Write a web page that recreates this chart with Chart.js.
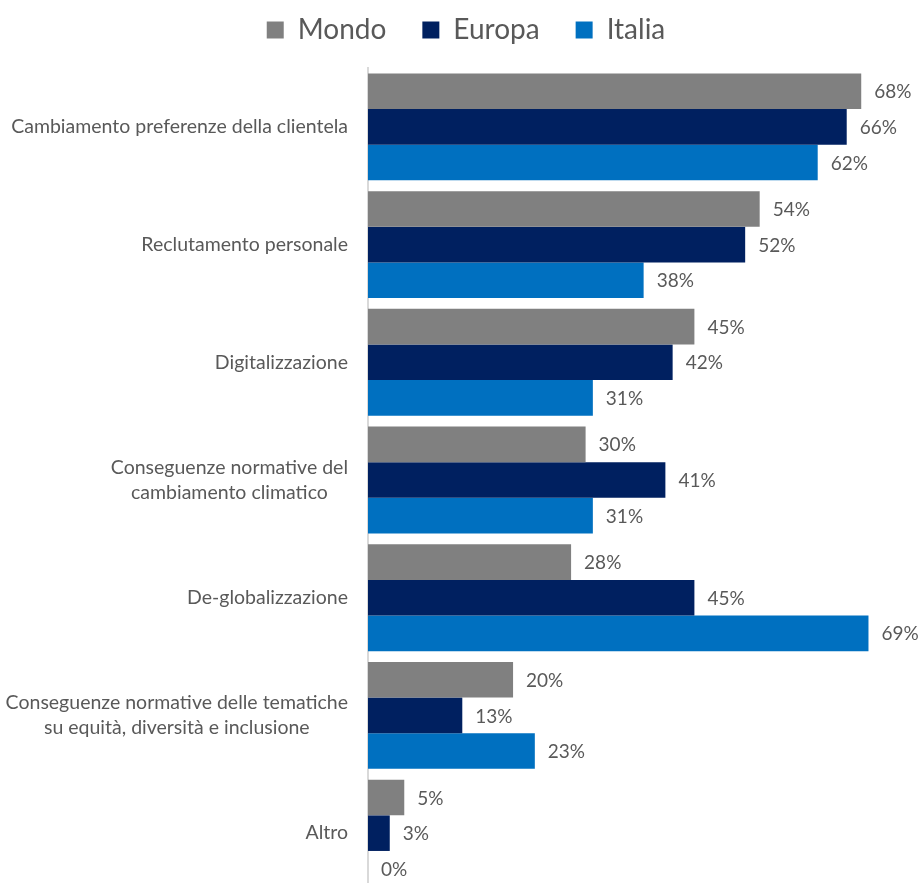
<!DOCTYPE html>
<html lang="it">
<head>
<meta charset="utf-8">
<title>Fattori di cambiamento</title>
<script src="https://cdn.jsdelivr.net/npm/chart.js@4/dist/chart.umd.min.js"></script>
<style>
  html, body { margin: 0; padding: 0; background: #fff; overflow: hidden; }
  #wrap { width: 920px; height: 893px; }
</style>
</head>
<body>
<div id="wrap"><canvas id="chart"></canvas></div>
<script>
// categories (multi-line where the label wraps)
const categories = [
  ['Cambiamento preferenze della clientela'],
  ['Reclutamento personale'],
  ['Digitalizzazione'],
  ['Conseguenze normative del', 'cambiamento climatico'],
  ['De-globalizzazione'],
  ['Conseguenze normative delle tematiche', 'su equità, diversità e inclusione'],
  ['Altro']
];

// percentages per series
const mondo  = [68, 54, 45, 30, 28, 20, 5];
const europa = [66, 52, 42, 41, 45, 13, 3];
const italia = [62, 38, 31, 31, 69, 23, 0];

const seriesNames = ['Mondo', 'Europa', 'Italia'];
const seriesColors = ['#808080', '#002060', '#0070C0'];

const textGray = '#595959';
const fontFamily = 'Lato, "Noto Sans", sans-serif';

// category labels: block right-aligned to the axis, lines centred inside the block
const categoryLabels = {
  id: 'categoryLabels',
  afterDraw(chart) {
    const ctx = chart.ctx;
    const y = chart.scales.y;
    const right = chart.chartArea.left - 20;
    const lineH = 25;
    ctx.save();
    ctx.font = '19.5px ' + fontFamily;
    ctx.fillStyle = textGray;
    ctx.textAlign = 'center';
    ctx.textBaseline = 'middle';
    categories.forEach((lines, i) => {
      const cy = y.getPixelForValue(i);
      const maxW = Math.max(...lines.map(l => ctx.measureText(l).width));
      const cx = right - maxW / 2;
      const top = cy - (lines.length - 1) * lineH / 2;
      lines.forEach((l, k) => ctx.fillText(l, cx, top + k * lineH));
    });
    ctx.restore();
  }
};

// value labels to the right of each bar
const valueLabels = {
  id: 'valueLabels',
  afterDatasetsDraw(chart) {
    const ctx = chart.ctx;
    ctx.save();
    ctx.font = '19px ' + fontFamily;
    ctx.fillStyle = textGray;
    ctx.textAlign = 'left';
    ctx.textBaseline = 'middle';
    chart.data.datasets.forEach((ds, di) => {
      chart.getDatasetMeta(di).data.forEach((bar, i) => {
        ctx.fillText(ds.data[i] + '%', bar.x + 13, bar.y + 1);
      });
    });
    ctx.restore();
  }
};

new Chart(document.getElementById('chart'), {
  type: 'bar',
  data: {
    labels: categories,
    datasets: [mondo, europa, italia].map((d, i) => ({
      label: seriesNames[i],
      data: d,
      backgroundColor: seriesColors[i],
      borderWidth: 0,
      categoryPercentage: 0.908,
      barPercentage: 1
    }))
  },
  options: {
    indexAxis: 'y',
    responsive: true,
    maintainAspectRatio: false,
    animation: false,
    layout: { padding: { top: -20, right: 8, bottom: 1, left: 20 } },
    scales: {
      x: {
        position: 'top',
        min: 0,
        max: 75,
        grid: { display: false },
        border: { display: false },
        ticks: { display: false },
        // empty band between legend and bars
        afterFit(scale) { scale.height = 14; }
      },
      y: {
        grid: { display: false },
        border: { display: true, color: '#d9d9d9', width: 2 },
        ticks: { display: false },
        afterFit(scale) { scale.width = 348; }
      }
    },
    plugins: {
      legend: {
        position: 'top',
        labels: {
          boxWidth: 17,
          boxHeight: 17,
          padding: 36,
          color: textGray,
          font: { family: fontFamily, size: 28 }
        }
      },
      tooltip: { enabled: false }
    }
  },
  plugins: [categoryLabels, valueLabels]
});
</script>
</body>
</html>
